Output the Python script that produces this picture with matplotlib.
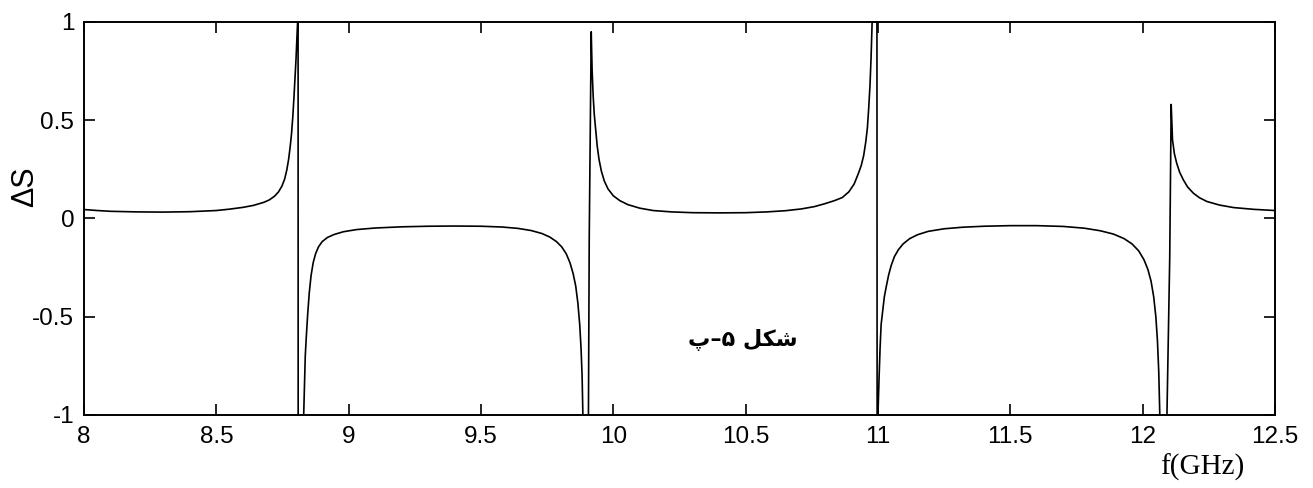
import matplotlib
matplotlib.use("Agg")
import matplotlib.pyplot as plt

# ---- data (values outside [-1, 1] are clipped by the axes) ----
freq_ghz = [
    # branch rising to the first resonance
    8.000, 8.050, 8.100, 8.200, 8.300, 8.400, 8.500, 8.550, 8.600, 8.640, 8.680, 8.700,
    8.720, 8.735, 8.748, 8.758, 8.766, 8.773, 8.779, 8.784, 8.789, 8.793, 8.797, 8.801,
    8.804, 8.807, 8.8085, 8.8095, 8.826,
    # lower branch between 8.83 and 9.885
    8.830, 8.833, 8.836, 8.840, 8.845, 8.851, 8.858, 8.866, 8.875, 8.886, 8.900, 8.920,
    8.945, 8.980, 9.030, 9.100, 9.200, 9.300, 9.400, 9.500, 9.580, 9.640, 9.690, 9.730,
    9.760, 9.785, 9.805, 9.822, 9.836, 9.848, 9.858, 9.866, 9.873, 9.878, 9.882, 9.885,
    9.888, 9.904,
    # second peak and upper branch up to 10.98
    9.906, 9.909, 9.9165, 9.920, 9.924, 9.928, 9.933, 9.939, 9.946, 9.955, 9.966, 9.980,
    10.000, 10.025, 10.055, 10.100, 10.150, 10.220, 10.300, 10.400, 10.500, 10.580, 10.650,
    10.710, 10.760, 10.800, 10.835, 10.865, 10.890, 10.910, 10.925, 10.937, 10.946, 10.954,
    10.960, 10.965, 10.970, 10.974, 10.978, 10.990, 10.9955, 10.9975,
    # lower branch between 11.0 and 12.065
    11.000, 11.004, 11.008, 11.012, 11.018, 11.024, 11.031, 11.040, 11.050, 11.062, 11.077,
    11.095, 11.120, 11.150, 11.190, 11.250, 11.320, 11.400, 11.500, 11.600, 11.700, 11.780,
    11.840, 11.890, 11.930, 11.960, 11.985, 12.005, 12.020, 12.032, 12.042, 12.050, 12.056,
    12.061, 12.065, 12.068, 12.088,
    # fourth peak and tail
    12.092, 12.1025, 12.108, 12.111, 12.113, 12.120, 12.129, 12.140, 12.154, 12.170, 12.192,
    12.215, 12.243, 12.290, 12.344, 12.420, 12.500,
]
delta_s = [
    0.045, 0.040, 0.036, 0.033, 0.032, 0.034, 0.040, 0.047, 0.056, 0.066, 0.082, 0.094,
    0.113, 0.135, 0.165, 0.200, 0.245, 0.300, 0.365, 0.430, 0.520, 0.610, 0.710, 0.810,
    0.900, 1.000, 3.000, -3.000, -3.000,
    -1.000, -0.850, -0.700, -0.600, -0.490, -0.380, -0.290, -0.225, -0.180, -0.145, -0.118, -0.097,
    -0.082, -0.068, -0.057, -0.049, -0.043, -0.040, -0.039, -0.040, -0.044, -0.051, -0.062, -0.077,
    -0.095, -0.118, -0.145, -0.180, -0.225, -0.280, -0.345, -0.430, -0.540, -0.660, -0.800, -1.000,
    -3.000, -3.000,
    -1.000, -0.100, 0.950, 0.750, 0.620, 0.530, 0.455, 0.370, 0.300, 0.240, 0.190, 0.150,
    0.115, 0.090, 0.070, 0.052, 0.040, 0.033, 0.029, 0.028, 0.029, 0.033, 0.039,
    0.048, 0.060, 0.075, 0.090, 0.106, 0.135, 0.175, 0.225, 0.270, 0.320, 0.390,
    0.460, 0.560, 0.680, 0.820, 1.000, 3.000, 3.000, -3.000,
    -1.000, -0.820, -0.660, -0.540, -0.470, -0.400, -0.350, -0.290, -0.240, -0.195, -0.160,
    -0.130, -0.103, -0.083, -0.066, -0.053, -0.045, -0.040, -0.037, -0.037, -0.041, -0.050,
    -0.063, -0.080, -0.103, -0.130, -0.165, -0.210, -0.260, -0.320, -0.400, -0.500, -0.620,
    -0.780, -1.000, -3.000, -3.000,
    -1.000, -0.200, 0.580, 0.470, 0.400, 0.330, 0.280, 0.235, 0.196, 0.160, 0.128,
    0.105, 0.086, 0.068, 0.055, 0.046, 0.040,
]

x_ticks = [8, 8.5, 9, 9.5, 10, 10.5, 11, 11.5, 12, 12.5]
x_tick_labels = ["8", "8.5", "9", "9.5", "10", "10.5", "11", "11.5", "12", "12.5"]
y_ticks = [-1, -0.5, 0, 0.5, 1]
y_tick_labels = ["-1", "-0.5", "0", "0.5", "1"]

x_label = "f(GHz)"
y_label = "ΔS"
figure_caption = "شکل ۵–پ"   # Persian caption (logical order)


# minimal contextual shaping for the caption (matplotlib has no Arabic shaping)
FORMS = {  # isolated, final, initial, medial
    "ش": ("\uFEB5", "\uFEB6", "\uFEB7", "\uFEB8"),
    "ک": ("\uFB8E", "\uFB8F", "\uFB90", "\uFB91"),
    "ل": ("\uFEDD", "\uFEDE", "\uFEDF", "\uFEE0"),
    "پ": ("\uFB56", "\uFB57", "\uFB58", "\uFB59"),
}


def shape_rtl(text):
    out = []
    n = len(text)
    for i, ch in enumerate(text):
        if ch not in FORMS:
            out.append(ch)
            continue
        prev_j = i > 0 and text[i - 1] in FORMS
        next_j = i < n - 1 and text[i + 1] in FORMS
        iso, fin, ini, med = FORMS[ch]
        if prev_j and next_j:
            out.append(med)
        elif prev_j:
            out.append(fin)
        elif next_j:
            out.append(ini)
        else:
            out.append(iso)
    return "".join(reversed(out))


fig = plt.figure(figsize=(13.13, 4.88), dpi=100)
ax = fig.add_axes([0.064, 0.150, 0.907, 0.805])

ax.plot(freq_ghz, delta_s, color="black", linewidth=1.2)

ax.set_xlim(8, 12.5)
ax.set_ylim(-1, 1)
ax.set_xticks(x_ticks)
ax.set_xticklabels(x_tick_labels)
ax.set_yticks(y_ticks)
ax.set_yticklabels(y_tick_labels)

for lab in ax.get_xticklabels() + ax.get_yticklabels():
    lab.set_fontfamily("Liberation Sans")
    lab.set_fontsize(17.5)

ax.tick_params(direction="in", length=8, width=1.2, top=True, right=True)
ax.tick_params(axis="x", pad=8)
ax.tick_params(axis="y", pad=7)
for sp in ax.spines.values():
    sp.set_linewidth(1.4)

fig.text(25 / 1313, 1 - 187 / 488, y_label, rotation=90, ha="center", va="center",
         fontsize=22, family="Liberation Sans")

fig.text(1202 / 1313, 1 - 467 / 488, x_label, ha="center", va="center",
         fontsize=21, family="Liberation Serif")

ax.text(10.49, -0.62, shape_rtl(figure_caption), ha="center", va="center",
        fontsize=16, fontweight="bold", family=["DejaVu Sans"])

fig.savefig("out.png", dpi=100, facecolor="white")
